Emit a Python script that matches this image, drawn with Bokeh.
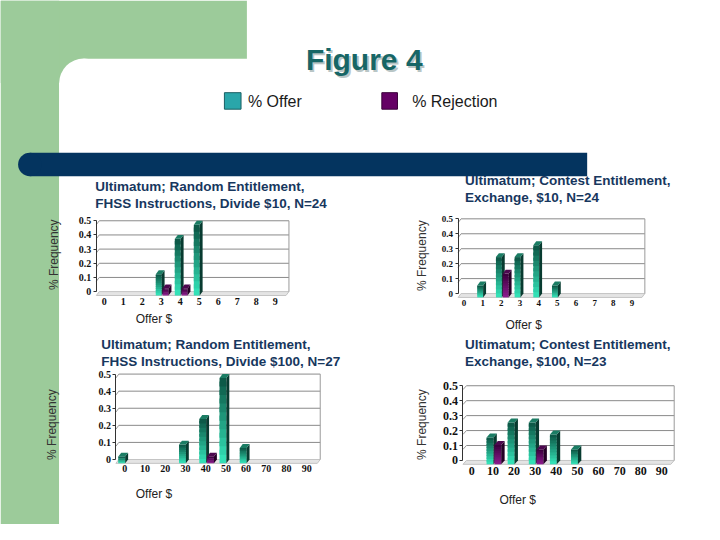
import numpy as np
from bokeh.plotting import figure
from bokeh.models import Range1d, LinearAxis, FixedTicker, NumeralTickFormatter
from bokeh.core.properties import value
from bokeh.embed import file_html
from bokeh.resources import INLINE

# ---------------- data ----------------
offers_10 = [0, 1, 2, 3, 4, 5, 6, 7, 8, 9]
offers_100 = [0, 10, 20, 30, 40, 50, 60, 70, 80, 90]
freq_ticks = [0, 0.1, 0.2, 0.3, 0.4, 0.5]

a_offer = [0, 0, 0, 0.15, 0.40, 0.50, 0, 0, 0, 0]
a_reject = [0, 0, 0, 0.05, 0.05, 0, 0, 0, 0, 0]
b_offer = [0, 0.08, 0.27, 0.27, 0.35, 0.08, 0, 0, 0, 0]
b_reject = [0, 0, 0.16, 0, 0, 0, 0, 0, 0, 0]
c_offer = [0.04, 0, 0, 0.11, 0.26, 0.50, 0.09, 0, 0, 0]
c_reject = [0, 0, 0, 0, 0.04, 0, 0, 0, 0, 0]
d_offer = [0, 0.18, 0.28, 0.28, 0.20, 0.10, 0, 0, 0, 0]
d_reject = [0, 0.13, 0, 0.10, 0, 0, 0, 0, 0, 0]

titles = [
    ["Ultimatum; Random Entitlement,", "FHSS Instructions, Divide $10, N=24"],
    ["Ultimatum; Contest Entitlement,", "Exchange, $10, N=24"],
    ["Ultimatum; Random Entitlement,", "FHSS Instructions, Divide $100, N=27"],
    ["Ultimatum; Contest Entitlement,", "Exchange, $100, N=23"],
]
legend_labels = ["% Offer", "% Rejection"]
main_title = "Figure 4"
y_label = "% Frequency"
x_label = "Offer $"

# ---------------- styles ----------------
GREEN = "#9ccb9a"
NAVY = "#04345f"
TEAL_TITLE = "#176666"
TITLE_NAVY = "#17375e"
SANS = "Liberation Sans"
SERIF = "Liberation Serif"

W, H = 704, 524
p = figure(width=W, height=H, x_range=Range1d(0, 720), y_range=Range1d(540, 0),
           output_backend="svg", toolbar_location=None,
           x_axis_type=None, y_axis_type=None, min_border=0,
           outline_line_color=None, background_fill_color="white",
           border_fill_color="white")

# background decoration (slide layout)
p.quad(left=[0, 0], right=[252, 60], top=[0, 0], bottom=[85, 540],
       fill_color=GREEN, line_color=None)
p.quad(left=[85, 60], right=[720, 720], top=[60, 85], bottom=[540, 540],
       fill_color="white", line_color=None)
p.circle(x=[85], y=[85], radius=25, fill_color="white", line_color=None)
p.quad(left=[30], right=[600], top=[157], bottom=[181], fill_color=NAVY, line_color=None)
p.ellipse(x=[30], y=[169], width=24, height=24, fill_color=NAVY, line_color=None)

# main title with shadow
p.text(x=[374], y=[63], text=[main_title], text_font=value(SANS), text_font_style="bold",
       text_font_size="30px", text_color="#b9c6c6", text_align="center", text_baseline="middle")
p.text(x=[372], y=[61], text=[main_title], text_font=value(SANS), text_font_style="bold",
       text_font_size="30px", text_color=TEAL_TITLE, text_align="center", text_baseline="middle")

# legend
p.quad(left=[229], right=[246], top=[95], bottom=[112], fill_color="#2aa6aa", line_color="#1a5f63")
p.quad(left=[390], right=[406], top=[95], bottom=[112], fill_color="#650065", line_color="#3a003a")
p.text(x=[253, 421], y=[104, 104], text=legend_labels, text_font=value(SANS),
       text_font_size="16px", text_color="#1a1a1a", text_baseline="middle")


def lerp_colors(c1, c2, n):
    a = np.array([int(c1[i:i + 2], 16) for i in (1, 3, 5)], float)
    b = np.array([int(c2[i:i + 2], 16) for i in (1, 3, 5)], float)
    out = []
    for t in np.linspace(0, 1, n):
        c = a + (b - a) * t
        out.append("#%02x%02x%02x" % tuple(int(round(v)) for v in c))
    return out


OFFER_STYLE = dict(bottom="#33e0b6", top_c="#0d5a48", side="#083b30", cap="#1b7d64")
REJ_STYLE = dict(bottom="#8a1b8c", top_c="#3d003f", side="#250026", cap="#4d084f")


def draw_panel(key, xs, offer, reject, title, g):
    k = (g["y0"] - g["y5"]) / 0.5
    step = g["step"]
    p.extra_x_ranges[key] = Range1d((0 - g["x0"]) / step, (720 - g["x0"]) / step)
    p.extra_y_ranges[key] = Range1d((g["y0"] - 540) / k, g["y0"] / k)
    rn = dict(x_range_name=key, y_range_name=key)
    dx, dy = g["dx"] / step, g["dy"] / k
    left = (g["left"] - g["x0"]) / step
    right = (g["right"] - g["x0"]) / step
    top = freq_ticks[-1]

    # floor
    p.patch(x=[left, right - dx, right, left + dx], y=[-dy, -dy, 0, 0],
            fill_color="#e4e4e4", line_color="#c4c4c4", line_width=1, **rn)
    # back wall grid
    gl = freq_ticks[1:]
    p.segment(x0=[left + dx] * len(gl), x1=[right] * len(gl), y0=gl, y1=gl,
              line_color="#8a8a8a", line_width=1, **rn)
    p.segment(x0=[left] * len(gl), x1=[left + dx] * len(gl), y0=[t - dy for t in gl], y1=gl,
              line_color="#9a9a9a", line_width=1, **rn)
    p.segment(x0=[right], x1=[right], y0=[0], y1=[top], line_color="#9a9a9a", line_width=1, **rn)

    # bars
    def bars(vals, off_px, st):
        sel = [(x, v) for x, v in zip(xs, vals) if v > 0]
        if not sel:
            return
        w = g["w"] / step
        c = [x + off_px / step for x, _ in sel]
        v = [vv for _, vv in sel]
        l = [ci - w / 2 for ci in c]
        r = [ci + w / 2 for ci in c]
        n = 10
        cols = lerp_colors(st["bottom"], st["top_c"], n)
        for i in range(n):
            p.quad(left=l, right=r,
                   bottom=[-dy + vv * i / n for vv in v],
                   top=[-dy + vv * min(i + 1.6, n) / n for vv in v],
                   fill_color=cols[i], line_color=None, **rn)
        p.patches(xs=[[ri, ri + dx, ri + dx, ri] for ri in r],
                  ys=[[-dy, 0, vv, vv - dy] for vv in v],
                  fill_color=st["side"], line_color=None, **rn)
        p.patches(xs=[[li, li + dx, ri + dx, ri] for li, ri in zip(l, r)],
                  ys=[[vv - dy, vv, vv, vv - dy] for vv in v],
                  fill_color=st["cap"], line_color=None, **rn)

    bars(offer, g["off_o"], OFFER_STYLE)
    bars(reject, g["off_r"], REJ_STYLE)

    # axes
    yax = LinearAxis(fixed_location=left, bounds=(0, top), **rn)
    yax.ticker = FixedTicker(ticks=freq_ticks)
    yax.formatter = NumeralTickFormatter(format="0.[0]")
    yax.axis_line_color = "#333333"
    yax.major_tick_line_color = "#333333"
    yax.major_tick_out = 3
    yax.major_tick_in = 0
    yax.minor_tick_line_color = None
    yax.major_label_standoff = 2
    yax.major_label_text_font = SERIF
    yax.major_label_text_font_style = "bold"
    yax.major_label_text_font_size = g["fs"]
    yax.major_label_text_color = "#111111"
    p.add_layout(yax, "left")

    xax = LinearAxis(fixed_location=-dy, bounds=(xs[0], xs[-1]), **rn)
    xax.ticker = FixedTicker(ticks=xs)
    xax.axis_line_color = None
    xax.major_tick_line_color = None
    xax.major_tick_out = 0
    xax.major_tick_in = 0
    xax.minor_tick_line_color = None
    xax.minor_tick_out = 0
    xax.major_label_standoff = g["xstand"]
    xax.major_label_text_font = SERIF
    xax.major_label_text_font_style = "bold"
    xax.major_label_text_font_size = g["fs"]
    xax.major_label_text_color = "#111111"
    p.add_layout(xax, "below")

    # titles and labels
    p.text(x=[g["tx"]] * 2, y=[g["ty"], g["ty"] + 17], text=title, text_font=value(SANS),
           text_font_style="bold", text_font_size="13.5px", text_color=TITLE_NAVY,
           text_baseline="middle")
    p.text(x=[g["ylx"]], y=[g["yly"]], text=[y_label], angle=np.pi / 2, text_font=value(SANS),
           text_font_size="12px", text_color="#333333", text_align="center", text_baseline="middle")
    p.text(x=[g["xlx"]], y=[g["xly"]], text=[x_label], text_font=value(SANS),
           text_font_size="12px", text_color="#222222", text_align="center", text_baseline="middle")


geo = [
    dict(x0=106, step=19.44, y0=300, y5=227, left=98, right=295, dx=3, dy=4, w=6,
         off_o=-2.5, off_r=4.5, fs="10px", xstand=3, tx=97, ty=192, ylx=55, yly=262,
         xlx=157, xly=328),
    dict(x0=474, step=19.1, y0=302, y5=225, left=468, right=659, dx=3, dy=4, w=6,
         off_o=-2.5, off_r=4.5, fs="9px", xstand=3, tx=475, ty=186, ylx=431, yly=263,
         xlx=535, xly=334),
    dict(x0=127, step=2.07, y0=473, y5=385, left=118, right=327, dx=3, dy=4, w=7,
         off_o=-3, off_r=5, fs="10px", xstand=2, tx=103, ty=355, ylx=53, yly=437,
         xlx=157, xly=509),
    dict(x0=482, step=2.16, y0=474, y5=397, left=473, right=689, dx=3.5, dy=4, w=7,
         off_o=-3, off_r=5, fs="12px", xstand=3, tx=475, ty=355, ylx=431, yly=437,
         xlx=529, xly=515),
]

draw_panel("a", offers_10, a_offer, a_reject, titles[0], geo[0])
draw_panel("b", offers_10, b_offer, b_reject, titles[1], geo[1])
draw_panel("c", offers_100, c_offer, c_reject, titles[2], geo[2])
draw_panel("d", offers_100, d_offer, d_reject, titles[3], geo[3])

open("out.html", "w").write(file_html(p, INLINE))
